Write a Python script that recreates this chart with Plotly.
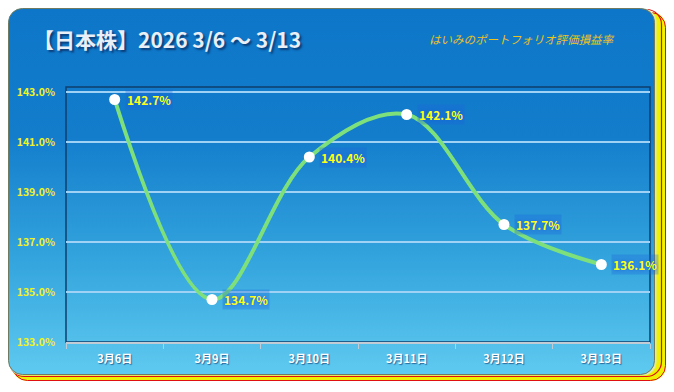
import base64
import plotly.graph_objects as go

categories = ["3月6日", "3月9日", "3月10日", "3月11日", "3月12日", "3月13日"]
values = [142.7, 134.7, 140.4, 142.1, 137.7, 136.1]
y_ticks = [133, 135, 137, 139, 141, 143]
y_tick_labels = ["133.0%", "135.0%", "137.0%", "139.0%", "141.0%", "143.0%"]
title_text = "【日本株】2026 3/6 ～ 3/13"
subtitle_text = "はいみのポートフォリオ評価損益率"

W, H = 674, 392
L, R, T, B = 66, 24, 87, 50
PW, PH = W - L - R, H - T - B

svg = f'''<svg xmlns="http://www.w3.org/2000/svg" width="{W}" height="{H}" viewBox="0 0 {W} {H}">
<defs><linearGradient id="g" x1="0" y1="0" x2="0" y2="1">
<stop offset="0" stop-color="#0d76c8"/>
<stop offset="0.35" stop-color="#137dcc"/>
<stop offset="0.7" stop-color="#35a6de"/>
<stop offset="1" stop-color="#5fcaf0"/>
</linearGradient></defs>
<rect x="12" y="12" width="654" height="369" rx="15" fill="#eef200"/>
<rect x="12.5" y="12.5" width="653" height="368" rx="15" fill="none" stroke="#e01010" stroke-width="1"/>
<rect x="9.5" y="9.5" width="652" height="367" rx="15" fill="none" stroke="#e01010" stroke-width="1.2"/>
<rect x="8.5" y="8.5" width="648" height="367" rx="14" fill="#dfe8b0"/>
<rect x="8.5" y="8.5" width="646" height="366" rx="14" fill="url(#g)" stroke="#6f7a60" stroke-width="1"/>
</svg>'''
src = "data:image/svg+xml;base64," + base64.b64encode(svg.encode()).decode()

fig = go.Figure()
fig.add_trace(go.Scatter(
    x=categories, y=values, mode="lines+markers",
    line=dict(color="#7ee07a", width=4, shape="spline", smoothing=1.0),
    marker=dict(color="white", size=11, line=dict(width=0)),
    hoverinfo="skip", cliponaxis=False,
))

for c, v in zip(categories, values):
    fig.add_annotation(
        x=c, y=v, text=f"{v:.1f}%", showarrow=False, xanchor="left", yanchor="middle",
        xshift=10, font=dict(family="Noto Sans CJK JP", size=12, color="#ffff1a", weight="bold",
                             shadow="0px 0px 3px #1a5fe0"),
        bgcolor="rgba(30,100,220,0.3)", borderpad=1,
    )

fig.add_annotation(
    xref="paper", yref="paper", x=(31 - L) / PW, y=(H - B - 39) / PH,
    text=title_text, showarrow=False, xanchor="left", yanchor="middle",
    font=dict(family="Noto Sans CJK JP", size=21, color="#e9eff6", weight="bold",
              shadow="2px 2px 2px #0a3d78"),
)
fig.add_annotation(
    xref="paper", yref="paper", x=(427 - L) / PW, y=(H - B - 39) / PH,
    text=f"<i>{subtitle_text}</i>", showarrow=False, xanchor="left", yanchor="middle",
    font=dict(family="Noto Sans CJK JP", size=11.5, color="#eec21c"),
)

fig.add_shape(type="rect", xref="paper", yref="paper", x0=0, x1=1, y0=0, y1=1,
              line=dict(color="#0e3f6e", width=1.5), layer="below")

fig.add_layout_image(dict(
    source=src, xref="paper", yref="paper",
    x=-L / PW, y=(H - B) / PH, sizex=W / PW, sizey=H / PH,
    xanchor="left", yanchor="top", sizing="stretch", layer="below",
))

fig.update_layout(
    width=W, height=H, margin=dict(l=L, r=R, t=T, b=B),
    paper_bgcolor="white", plot_bgcolor="rgba(0,0,0,0)",
    showlegend=False,
    xaxis=dict(type="category", showgrid=False, zeroline=False,
               showline=True, linecolor="#c3ccd4", linewidth=2,
               ticks="outside", tickson="boundaries", ticklen=5, tickcolor="#c3ccd4",
               ticklabelstandoff=6,
               tickfont=dict(family="Noto Sans CJK JP", size=11, color="#ffffff", weight="bold",
                             shadow="1px 1px 1px #2a6a9a"),
               range=[-0.5, 5.5], fixedrange=True),
    yaxis=dict(range=[133, 143.2], tickmode="array", tickvals=y_ticks, ticktext=y_tick_labels,
               showgrid=True, gridcolor="#9fd2f4", gridwidth=1.5, zeroline=False, showline=False,
               ticks="", ticklabelstandoff=10,
               tickfont=dict(family="Noto Sans CJK JP", size=10.5, color="#f2f21e", weight="bold"),
               fixedrange=True),
)

fig.write_html("out.html")
